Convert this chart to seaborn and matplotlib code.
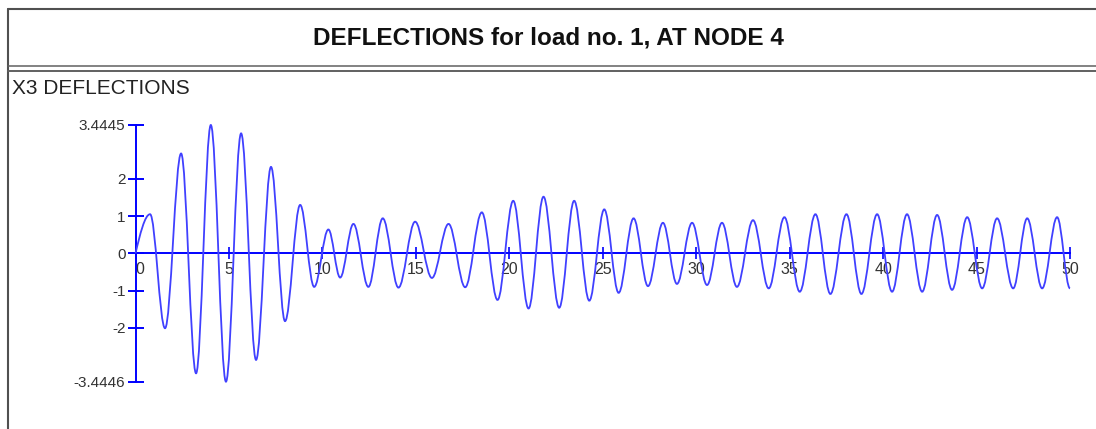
import matplotlib
matplotlib.use("Agg")
import matplotlib.pyplot as plt
from matplotlib.path import Path
from matplotlib.patches import PathPatch
from matplotlib.lines import Line2D
import seaborn as sns

# Turning points of the X3 deflection history at node 4 (time, deflection)
t_turn = [0.00, 0.78, 1.58, 2.44, 3.24, 4.03, 4.84, 5.65, 6.45, 7.25, 8.00,
          8.81, 9.56, 10.32, 10.95, 11.66, 12.46, 13.23, 14.07, 14.96, 15.86,
          16.75, 17.64, 18.53, 19.37, 20.21, 21.03, 21.83, 22.67, 23.47, 24.28,
          25.08, 25.85, 26.65, 27.42, 28.22, 28.97, 29.78, 30.58, 31.38, 32.18,
          33.04, 33.88, 34.72, 35.54, 36.38, 37.18, 38.04, 38.84, 39.68, 40.48,
          41.28, 42.09, 42.89, 43.69, 44.50, 45.30, 46.10, 46.96, 47.71, 48.51,
          49.31, 50.00]
x3_turn = [0.00, 1.05, -2.01, 2.68, -3.22, 3.4445, -3.4446, 3.22, -2.86, 2.32,
           -1.82, 1.30, -0.90, 0.64, -0.65, 0.79, -0.90, 0.94, -0.92, 0.85,
           -0.66, 0.79, -0.91, 1.10, -1.25, 1.41, -1.48, 1.52, -1.46, 1.41,
           -1.27, 1.18, -1.06, 0.94, -0.88, 0.82, -0.82, 0.82, -0.85, 0.82,
           -0.90, 0.89, -0.94, 0.97, -1.03, 1.05, -1.09, 1.05, -1.09, 1.05,
           -1.03, 1.05, -1.03, 1.03, -0.98, 0.97, -0.94, 0.94, -0.94, 0.94,
           -0.94, 0.97, -0.94]

x_ticks = [0, 5, 10, 15, 20, 25, 30, 35, 40, 45, 50]
y_ticks = [-3.4446, -2, -1, 0, 1, 2, 3.4445]
y_tick_labels = ["-3.4446", "-2", "-1", "0", "1", "2", "3.4445"]

TITLE = "DEFLECTIONS for load no. 1, AT NODE 4"
SUBTITLE = "X3 DEFLECTIONS"

sns.set_theme(style="white")
plt.rcParams["font.family"] = ["Liberation Sans", "DejaVu Sans"]

W, H = 1096, 429
fig = plt.figure(figsize=(W / 100, H / 100), dpi=100)
fig.patch.set_facecolor("white")


def fx(px):
    return px / W


def fy(py):
    return 1 - py / H


ax = fig.add_axes([fx(135.5), fy(381.7), (1070 - 135.5) / W, (381.7 - 125) / H])
ax.set_facecolor("none")
ax.set_xlim(0, 50)
ax.set_ylim(-3.4446, 3.4445)

blue = "#0000ff"
sns.despine(ax=ax)
for side in ("left", "bottom"):
    ax.spines[side].set_position(("data", 0))
    ax.spines[side].set_color(blue)
    ax.spines[side].set_linewidth(1.4)
ax.spines["bottom"].set_bounds(0, 50)
ax.spines["left"].set_bounds(-3.4446, 3.4445)

ax.set_xticks(x_ticks)
ax.set_yticks(y_ticks, labels=y_tick_labels)
ax.tick_params(axis="y", left=True, direction="inout", length=11.5, width=1.4,
               color=blue, pad=1.5, labelsize=11, labelcolor="#333333")
ax.tick_params(axis="x", bottom=True, direction="inout", length=8.6, width=1.2,
               color=blue, pad=2, labelsize=11.5, labelcolor="#333333")
ax.xaxis.get_major_ticks()[0].label1.set_horizontalalignment("left")

# Smooth trace through the turning points (horizontal tangent at each extremum)
k = 0.36
verts = [(t_turn[0], x3_turn[0])]
codes = [Path.MOVETO]
for i in range(1, len(t_turn)):
    t0, y0 = t_turn[i - 1], x3_turn[i - 1]
    t1, y1 = t_turn[i], x3_turn[i]
    d = t1 - t0
    if i == 1:
        c1 = (t0 + 0.3 * d, y0 + 0.47 * (y1 - y0))
    else:
        c1 = (t0 + k * d, y0)
    c2 = (t1 - k * d, y1)
    verts += [c1, c2, (t1, y1)]
    codes += [Path.CURVE4] * 3
ax.add_patch(PathPatch(Path(verts, codes), facecolor="none", edgecolor="#4040ff",
                       lw=1.3, clip_on=False, zorder=3))

# Window frame around the plot
frame = "#505050"
fig.add_artist(Line2D([fx(8), 1], [fy(9), fy(9)], color=frame, lw=1.5))
fig.add_artist(Line2D([fx(8), fx(8)], [fy(9), 0], color=frame, lw=1.5))
fig.add_artist(Line2D([fx(8), 1], [fy(66), fy(66)], color="#606060", lw=1.1))
fig.add_artist(Line2D([fx(8), 1], [fy(70.5), fy(70.5)], color="#606060", lw=1.4))

fig.text(fx(548), fy(38), TITLE, ha="center", va="center", fontsize=17.5,
         fontweight="bold", color="#111111")
fig.text(fx(12), fy(88), SUBTITLE, ha="left", va="center", fontsize=15,
         color="#222222")

fig.savefig("out.png", dpi=100)
